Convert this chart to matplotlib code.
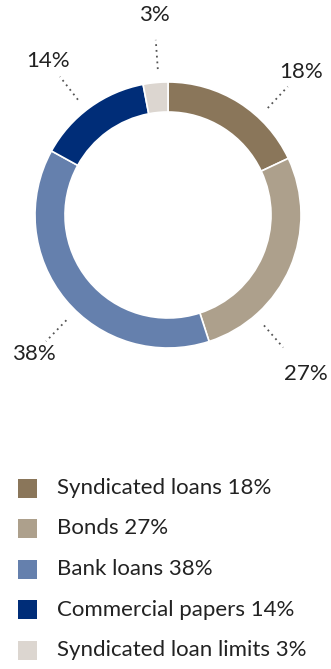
import numpy as np
import matplotlib.pyplot as plt
from matplotlib.patches import Rectangle

plt.rcParams["font.family"] = ["Lato", "DejaVu Sans"]

# ---- data
categories = ["Syndicated loans", "Bonds", "Bank loans",
              "Commercial papers", "Syndicated loan limits"]
shares = [18, 27, 38, 14, 3]
colors = ["#8a765a", "#ada08c", "#6580ad", "#002d78", "#dcd6d0"]

# leader direction (deg) and text distance for each outside label
label_angles = [47, -49, -134, 128, 94]
label_radius = [1.47, 1.58, 1.45, 1.47, 1.51]

W, H = 331, 669
fig = plt.figure(figsize=(W / 100, H / 100), dpi=100)
ax = fig.add_axes([0, 0, 1, 1])
ax.axis("off")

cx, cy, R = 168, 454, 133
ax.pie(shares, colors=colors, startangle=90, counterclock=False,
       center=(cx, cy), radius=R,
       wedgeprops=dict(width=30, edgecolor="white", linewidth=1.2))
ax.set_xlim(0, W)
ax.set_ylim(0, H)
ax.set_aspect("auto")

# ---- outside labels with dotted leaders
for val, ang, rt in zip(shares, label_angles, label_radius):
    a = np.deg2rad(ang)
    r0, r1 = R * 1.10, R * 1.32
    ax.plot([cx + r0 * np.cos(a), cx + r1 * np.cos(a)],
            [cy + r0 * np.sin(a), cy + r1 * np.sin(a)],
            ls=(0, (1, 2.2)), color="#555555", lw=1.3)
    ax.text(cx + R * rt * np.cos(a), cy + R * rt * np.sin(a), f"{val}%",
            ha="center", va="center", fontsize=16, color="#222222")

# ---- legend
y0, dy = H - 488, 40.5
for i, (cat, val, c) in enumerate(zip(categories, shares, colors)):
    y = y0 - i * dy
    ax.add_patch(Rectangle((18, y - 9.5), 19, 19, color=c, lw=0))
    ax.text(57, y, f"{cat} {val}%", ha="left", va="center",
            fontsize=16, color="#222222")

fig.savefig("out.png", dpi=100)
